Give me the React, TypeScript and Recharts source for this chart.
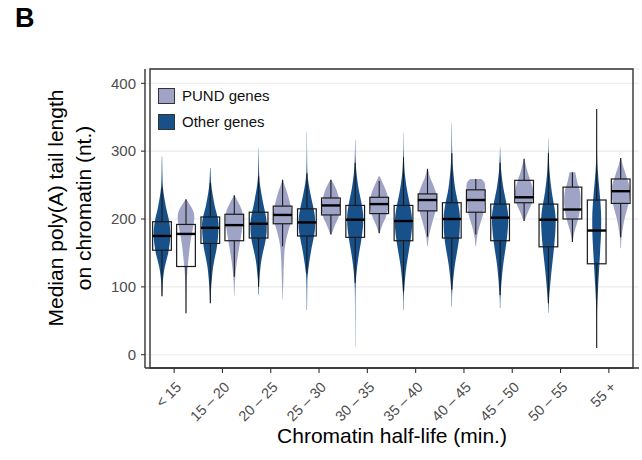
import React from 'react';
import { ComposedChart, Bar, XAxis, YAxis, CartesianGrid, Legend, ReferenceArea } from 'recharts';

const categories = ['< 15', '15 – 20', '20 – 25', '25 – 30', '30 – 35', '35 – 40', '40 – 45', '45 – 50', '50 – 55', '55 +'];
const yTicks = [0, 100, 200, 300, 400];
const yDomain = [-19.6, 421.1];

const legendNames = ['PUND genes', 'Other genes'];
const colorPund = '#9fa4c7';
const colorOther = '#18518a';

// Other genes
const otherViolinMin = [86, 76, 88, 66, 12, 66, 71, 69, 62, 10];
const otherViolinMax = [292, 275, 305, 329, 317, 327, 341, 306, 319, 362];
const otherWhiskerLow = [86, 76, 100, 120, 106, 93, 96, 88, 76, 10];
const otherWhiskerHigh = [246, 253, 263, 267, 283, 291, 297, 283, 297, 362];
const otherQ1 = [154, 164, 172, 175, 173, 168, 172, 168, 159, 134];
const otherMedian = [175, 187, 193, 195, 199, 197, 200, 202, 199, 183];
const otherQ3 = [196, 203, 210, 215, 220, 220, 224, 222, 222, 228];
const otherDensity: number[][][] = [
  [[86, 0.02], [110, 0.1], [130, 0.3], [150, 0.65], [170, 0.85], [185, 0.85], [200, 0.7], [215, 0.45], [235, 0.2], [250, 0.08], [270, 0.04], [292, 0.02]],
  [[76, 0.02], [100, 0.1], [130, 0.3], [160, 0.7], [185, 0.85], [200, 0.8], [220, 0.45], [240, 0.2], [255, 0.08], [275, 0.02]],
  [[88, 0.02], [111, 0.08], [140, 0.3], [170, 0.75], [190, 0.85], [205, 0.75], [225, 0.45], [250, 0.15], [265, 0.06], [285, 0.03], [305, 0.01]],
  [[66, 0.02], [100, 0.04], [120, 0.1], [150, 0.4], [180, 0.8], [200, 0.85], [215, 0.7], [235, 0.4], [255, 0.15], [270, 0.05], [300, 0.02], [329, 0.01]],
  [[12, 0.01], [60, 0.02], [106, 0.06], [140, 0.3], [175, 0.7], [200, 0.85], [220, 0.7], [245, 0.35], [270, 0.12], [290, 0.04], [317, 0.01]],
  [[66, 0.02], [93, 0.06], [130, 0.3], [170, 0.75], [195, 0.9], [215, 0.75], [240, 0.4], [265, 0.15], [291, 0.04], [327, 0.01]],
  [[71, 0.02], [96, 0.06], [130, 0.3], [170, 0.75], [200, 0.85], [220, 0.7], [245, 0.35], [275, 0.12], [300, 0.04], [341, 0.01]],
  [[69, 0.02], [90, 0.06], [130, 0.3], [170, 0.7], [200, 0.85], [220, 0.7], [245, 0.35], [270, 0.12], [290, 0.04], [306, 0.01]],
  [[62, 0.02], [80, 0.06], [120, 0.3], [160, 0.6], [190, 0.75], [210, 0.7], [240, 0.35], [270, 0.12], [300, 0.03], [319, 0.01]],
  [[10, 0.01], [60, 0.03], [100, 0.15], [150, 0.35], [180, 0.45], [210, 0.45], [240, 0.3], [270, 0.12], [300, 0.03], [362, 0.01]],
];

// PUND genes
const pundViolinMin = [61, 87, 81, 177, 179, 160, 160, 197, 166, 157];
const pundViolinMax = [229, 235, 258, 258, 263, 274, 259, 289, 269, 290];
const pundWhiskerLow = [61, 115, 160, 177, 179, 174, 177, 197, 166, 173];
const pundWhiskerHigh = [229, 235, 258, 258, 256, 274, 259, 289, 269, 290];
const pundQ1 = [130, 168, 193, 206, 208, 212, 210, 224, 200, 223];
const pundMedian = [178, 191, 206, 220, 222, 228, 228, 232, 214, 241];
const pundQ3 = [192, 207, 219, 231, 232, 237, 243, 257, 247, 259];
const pundDensity: number[][][] = [
  [[61, 0.02], [90, 0.05], [115, 0.1], [140, 0.25], [165, 0.45], [185, 0.7], [198, 0.85], [210, 0.8], [222, 0.35], [229, 0.02]],
  [[87, 0.02], [115, 0.1], [140, 0.3], [170, 0.65], [195, 0.9], [210, 0.85], [222, 0.5], [235, 0.03]],
  [[81, 0.02], [120, 0.1], [140, 0.15], [160, 0.25], [180, 0.55], [200, 0.95], [215, 0.9], [235, 0.55], [250, 0.2], [258, 0.03]],
  [[177, 0.05], [190, 0.4], [205, 0.85], [222, 0.95], [238, 0.7], [250, 0.35], [258, 0.05]],
  [[179, 0.05], [190, 0.3], [205, 0.75], [222, 1.0], [238, 0.8], [252, 0.4], [263, 0.05]],
  [[160, 0.03], [175, 0.15], [195, 0.5], [215, 0.9], [232, 1.0], [250, 0.6], [262, 0.25], [274, 0.03]],
  [[160, 0.03], [175, 0.15], [190, 0.4], [210, 0.8], [235, 0.95], [252, 0.95], [259, 0.6]],
  [[197, 0.05], [210, 0.4], [225, 0.85], [240, 0.95], [255, 0.7], [270, 0.35], [289, 0.03]],
  [[166, 0.03], [180, 0.2], [200, 0.6], [220, 0.85], [240, 0.8], [255, 0.5], [269, 0.3]],
  [[157, 0.03], [175, 0.1], [200, 0.4], [225, 0.85], [245, 0.95], [265, 0.55], [280, 0.2], [290, 0.03]],
];

const stats = (i: number, p: 'other' | 'pund') =>
  p === 'other'
    ? {
        vmin: otherViolinMin[i], vmax: otherViolinMax[i], lo: otherWhiskerLow[i], hi: otherWhiskerHigh[i],
        q1: otherQ1[i], med: otherMedian[i], q3: otherQ3[i], density: otherDensity[i],
      }
    : {
        vmin: pundViolinMin[i], vmax: pundViolinMax[i], lo: pundWhiskerLow[i], hi: pundWhiskerHigh[i],
        q1: pundQ1[i], med: pundMedian[i], q3: pundQ3[i], density: pundDensity[i],
      };

const data = categories.map((cat, i) => ({
  cat,
  otherRange: [otherViolinMin[i], otherViolinMax[i]],
  pundRange: [pundViolinMin[i], pundViolinMax[i]],
  other: stats(i, 'other'),
  pund: stats(i, 'pund'),
}));

const FONT = '"Liberation Sans", Arial, Helvetica, sans-serif';

function smoothPath(pts: number[][], move: boolean): string {
  let d = move ? `M${pts[0][0].toFixed(2)},${pts[0][1].toFixed(2)}` : `L${pts[0][0].toFixed(2)},${pts[0][1].toFixed(2)}`;
  for (let i = 0; i < pts.length - 1; i++) {
    const p0 = pts[i - 1] || pts[i];
    const p1 = pts[i];
    const p2 = pts[i + 1];
    const p3 = pts[i + 2] || p2;
    const c1x = p1[0] + (p2[0] - p0[0]) / 6;
    const c1y = p1[1] + (p2[1] - p0[1]) / 6;
    const c2x = p2[0] - (p3[0] - p1[0]) / 6;
    const c2y = p2[1] - (p3[1] - p1[1]) / 6;
    d += `C${c1x.toFixed(2)},${c1y.toFixed(2)} ${c2x.toFixed(2)},${c2y.toFixed(2)} ${p2[0].toFixed(2)},${p2[1].toFixed(2)}`;
  }
  return d;
}

function makeShape(key: 'other' | 'pund', color: string) {
  return (props: any) => {
    const { x, y, width, height, payload } = props;
    if (x == null || !payload) return <g />;
    const s = payload[key];
    const top = Math.min(y, y + height);
    const bottom = Math.max(y, y + height);
    const py = (v: number) => bottom - ((v - s.vmin) / (s.vmax - s.vmin)) * (bottom - top);
    const cx = x + width / 2;
    const maxHalf = width * 0.4;
    const dens: number[][] = s.density;
    const right = dens.map(([v, w]) => [cx + w * maxHalf, py(v)]);
    const left = dens.slice().reverse().map(([v, w]) => [cx - w * maxHalf, py(v)]);
    const d = smoothPath(right, true) + smoothPath(left, false) + 'Z';
    const bw = width * 0.78;
    const bx = cx - bw / 2;
    return (
      <g>
        <path d={d} fill={color} stroke="none" />
        <line x1={cx} x2={cx} y1={py(s.q3)} y2={py(s.hi)} stroke="#1a1a1a" strokeWidth={1.1} />
        <line x1={cx} x2={cx} y1={py(s.q1)} y2={py(s.lo)} stroke="#1a1a1a" strokeWidth={1.1} />
        <rect x={bx} y={py(s.q3)} width={bw} height={py(s.q1) - py(s.q3)} fill="none" stroke="#1a1a1a" strokeWidth={1.2} />
        <line x1={bx} x2={bx + bw} y1={py(s.med)} y2={py(s.med)} stroke="#000" strokeWidth={2.4} />
      </g>
    );
  };
}

const XTick = (props: any) => {
  const { x, y, payload } = props;
  const ax = x + 8;
  const ay = y + 13;
  return (
    <text x={ax} y={ay} transform={`rotate(-45 ${ax} ${ay})`} textAnchor="end" fontFamily={FONT} fontSize={14.5} fill="#4d4d4d">
      {payload.value}
    </text>
  );
};

const YTitle = () => (
  <g fontFamily={FONT} fontSize={21} fill="#000">
    <text x={63} y={208} transform="rotate(-90 63 208)" textAnchor="middle">Median poly(A) tail length</text>
    <text x={91} y={208} transform="rotate(-90 91 208)" textAnchor="middle">on chromatin (nt.)</text>
  </g>
);

const XTitle = () => (
  <text x={392} y={443} textAnchor="middle" fontFamily={FONT} fontSize={21} fill="#000">
    Chromatin half-life (min.)
  </text>
);

const LegendBox = () => (
  <svg width={170} height={46} style={{ display: 'block' }}>
    <rect x={1.5} y={1.5} width={16} height={15} fill={colorPund} stroke="#333" strokeWidth={1} />
    <text x={25} y={14} fontFamily={FONT} fontSize={15} fill="#111">{legendNames[0]}</text>
    <rect x={1.5} y={27.5} width={16} height={15} fill={colorOther} stroke="#333" strokeWidth={1} />
    <text x={25} y={40} fontFamily={FONT} fontSize={15} fill="#111">{legendNames[1]}</text>
  </svg>
);

export default function App() {
  return (
    <div style={{ position: 'absolute', left: 0, top: 0, width: 642, height: 460, background: '#fff' }}>
      <div style={{ position: 'absolute', left: 15, top: 3, fontFamily: FONT, fontWeight: 'bold', fontSize: 27, lineHeight: '30px' }}>B</div>
      <ComposedChart
        width={642}
        height={460}
        data={data}
        margin={{ top: 69, right: 3, bottom: 32, left: 100 }}
        barCategoryGap={0}
        barGap={0}
      >
        <CartesianGrid vertical={false} stroke="#ebebeb" strokeWidth={1.1} />
        <XAxis
          dataKey="cat"
          height={60}
          padding={{ left: 5, right: 6 }}
          interval={0}
          tickSize={5}
          tickMargin={2}
          axisLine={{ stroke: '#333', strokeWidth: 1.4 }}
          tickLine={{ stroke: '#333', strokeWidth: 1.1 }}
          tick={<XTick />}
          label={<XTitle />}
        />
        <YAxis
          width={45}
          domain={yDomain}
          ticks={yTicks}
          allowDataOverflow
          tickSize={4}
          tickMargin={5}
          axisLine={{ stroke: '#333', strokeWidth: 1.4 }}
          tickLine={{ stroke: '#333', strokeWidth: 1.1 }}
          tick={{ fontFamily: FONT, fontSize: 15, fill: '#4d4d4d' }}
          label={<YTitle />}
        />
        <Legend
          layout="horizontal"
          verticalAlign="middle"
          align="center"
          wrapperStyle={{ position: 'absolute', left: 157, top: 87, width: 170, height: 46 }}
          content={() => <LegendBox />}
        />
        <Bar dataKey="otherRange" name={legendNames[1]} fill={colorOther} isAnimationActive={false} shape={makeShape('other', colorOther)} />
        <Bar dataKey="pundRange" name={legendNames[0]} fill={colorPund} isAnimationActive={false} shape={makeShape('pund', colorPund)} />
        <ReferenceArea y1={yDomain[0]} y2={yDomain[1]} fill="none" fillOpacity={0} stroke="#333" strokeWidth={1.4} ifOverflow="visible" />
      </ComposedChart>
    </div>
  );
}
